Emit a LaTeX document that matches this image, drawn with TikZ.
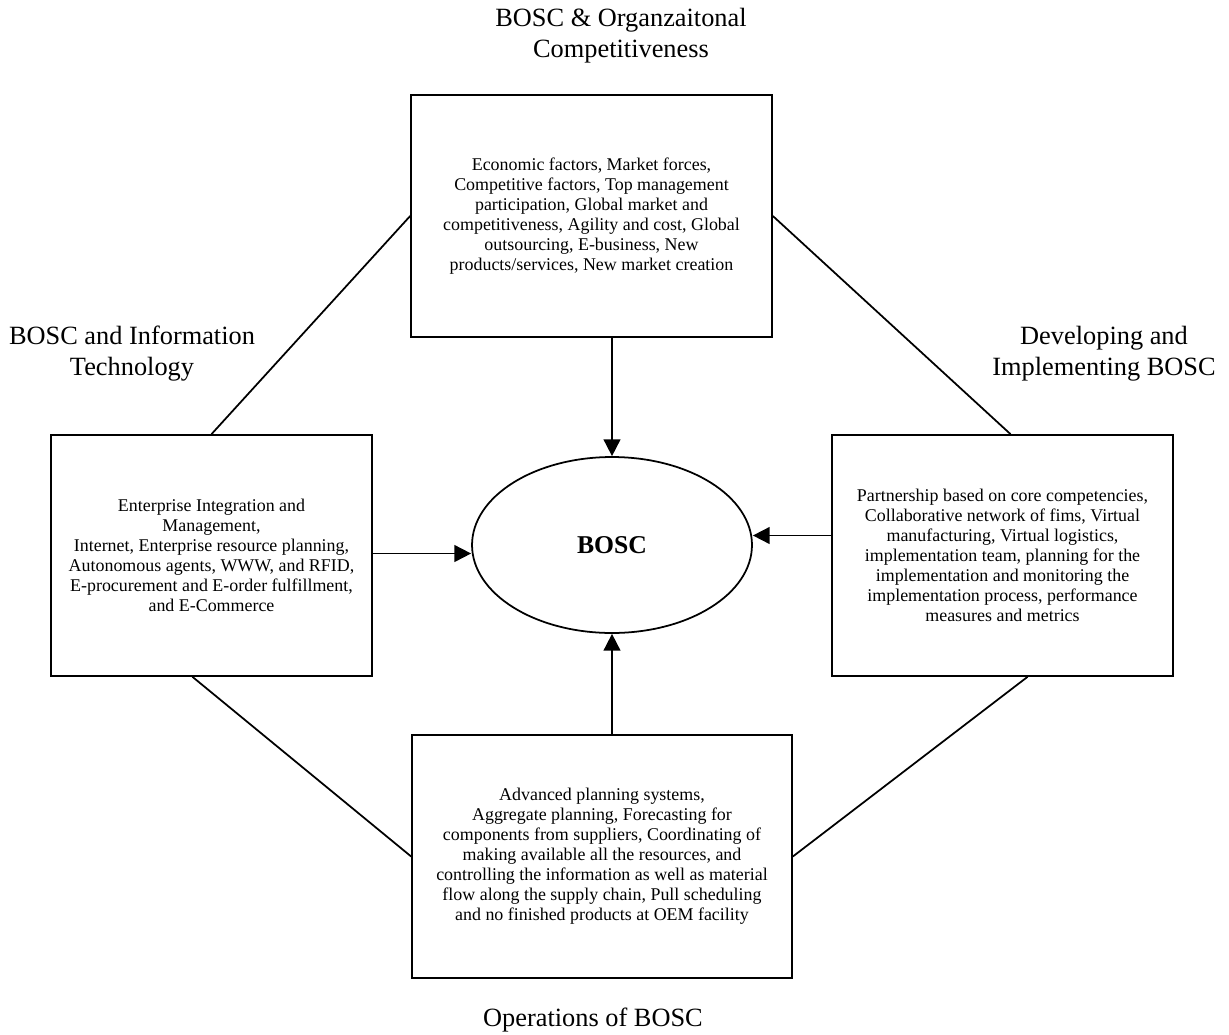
\documentclass[tikz,border=0pt]{standalone}
\usepackage{fontspec}
\setmainfont{Liberation Serif}
\usetikzlibrary{shapes.geometric,arrows.meta,positioning,calc}

\begin{document}
\begin{tikzpicture}[
    x=0.02cm, y=-0.02cm,
    box/.style={rectangle, draw, line width=1pt, align=center, inner sep=0pt, font=\fontsize{10.2}{11.4}\selectfont},
    arrow/.style={-{Triangle[length=9.5pt, width=9.5pt]}, line width=1pt},
    link/.style={line width=1pt},
    heading/.style={align=center, font=\fontsize{15}{17.6}\selectfont}
]
    \useasboundingbox (0,0) rectangle (1229,1034);

    % Centre
    \node[ellipse, draw, line width=1pt, minimum width=5.6cm, minimum height=3.52cm, inner sep=0pt, font=\fontsize{14.6}{16}\selectfont\bfseries] (bosc) at (612,545) {BOSC};

    % Four boxes
    \node[box, minimum width=7.22cm, minimum height=4.84cm] (top) at (591.5,216) {Economic factors, Market forces,\\Competitive factors, Top management\\participation, Global market and\\competitiveness, Agility and cost, Global\\outsourcing, E-business, New\\products/services, New market creation};
    \node[box, minimum width=6.42cm, minimum height=4.82cm] (left) at (211.5,555.5) {Enterprise Integration and\\Management,\\Internet, Enterprise resource planning,\\Autonomous agents, WWW, and RFID,\\E-procurement and E-order fulfillment,\\and E-Commerce};
    \node[box, minimum width=6.82cm, minimum height=4.82cm] (right) at (1002.5,555.5) {Partnership based on core competencies,\\Collaborative network of fims, Virtual\\manufacturing, Virtual logistics,\\implementation team, planning for the\\implementation and monitoring the\\implementation process, performance\\measures and metrics};
    \node[box, minimum width=7.6cm, minimum height=4.86cm] (bottom) at (602,856.5) {Advanced planning systems,\\Aggregate planning, Forecasting for\\components from suppliers, Coordinating of\\making available all the resources, and\\controlling the information as well as material\\flow along the supply chain, Pull scheduling\\and no finished products at OEM facility};

    % Headings
    \node[heading] (orgcomp) at (621,36) {BOSC \& Organzaitonal\\Competitiveness};
    \node[heading] (infotech) at (132,354) {BOSC and Information\\Technology};
    \node[heading] (develop) at (1104,354) {Developing and\\Implementing BOSC};
    \node[heading] (operations) at (593,1020) {Operations of BOSC};

    % Arrows into BOSC
    \coordinate (la) at ($(left.east)+(0,-2)$);
    \coordinate (ra) at ($(right.west)+(0,-20)$);
    \draw[arrow] (bosc.north |- top.south) -- (bosc.north);
    \draw[arrow] (bosc.south |- bottom.north) -- (bosc.south);
    \draw[arrow] (la) -- (la -| bosc.west);
    \draw[arrow] (ra) -- (ra -| bosc.east);

    % Ring of links
    \draw[link] (top.west) -- (left.north);
    \draw[link] (top.east) -- ($(right.north)+(8,0)$);
    \draw[link] ($(left.south)+(-19,0)$) -- (bottom.west);
    \draw[link] ($(right.south)+(25,0)$) -- (bottom.east);
\end{tikzpicture}
\end{document}
